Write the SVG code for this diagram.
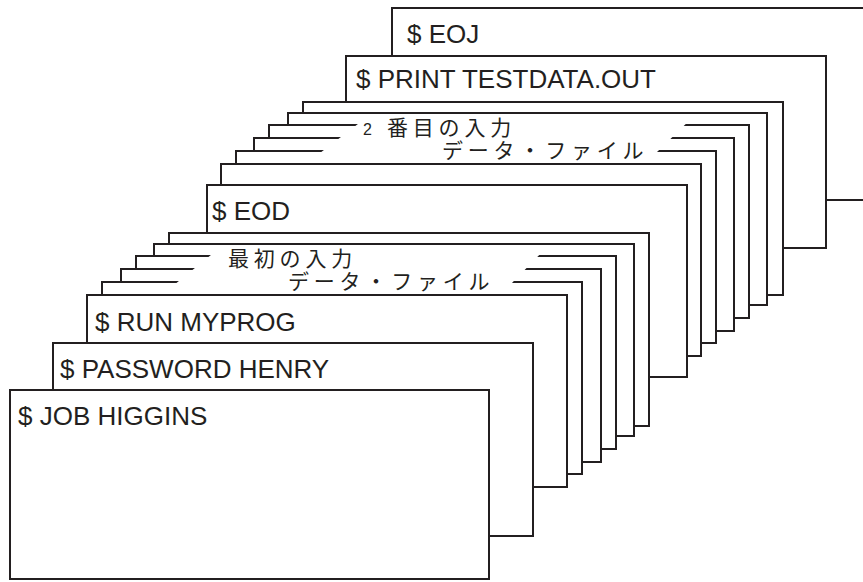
<svg xmlns="http://www.w3.org/2000/svg" width="863" height="582" viewBox="0 0 863 582">
<style>
.card{fill:#fff;stroke:#231f20;stroke-width:2}
.mask{fill:#fff;stroke:none}
.lbl{font-family:"Liberation Sans",Arial,sans-serif;font-size:26px;fill:#231f20}
.jp{font-family:"Noto Sans CJK JP","Noto Sans CJK SC",sans-serif;font-size:21px;letter-spacing:4.8px;fill:#231f20}
.num{font-family:"Liberation Sans",Arial,sans-serif;font-size:16px;fill:#231f20}
</style>
<rect width="863" height="582" fill="#fff"/>
<g id="card-eoj"><rect class="card" x="392" y="8" width="500" height="192"/><text class="lbl" x="407" y="43">$ EOJ</text></g>
<g id="card-print"><rect class="card" x="346" y="56" width="480" height="192"/><text class="lbl" x="356" y="88">$ PRINT TESTDATA.OUT</text></g>
<g id="data2">
<rect class="card" x="303" y="102" width="480" height="193"/>
<rect class="card" x="288" y="113" width="479" height="192"/>
<rect class="card" x="269" y="125" width="480" height="193"/>
<rect class="card" x="254" y="138" width="480" height="193"/>
<rect class="card" x="236" y="151" width="480" height="192"/>
<polygon class="mask" points="371,114 696,114 656,153 320,153"/>
<text class="num" x="363" y="135">2</text>
<text class="jp" x="387" y="135">番目の入力</text>
<text class="jp" x="442" y="158">データ・ファイル</text>
<rect class="card" x="221" y="164" width="480" height="192"/>
</g>
<g id="card-eod"><rect class="card" x="207" y="185" width="480" height="192"/><text class="lbl" x="212" y="220">$ EOD</text></g>
<g id="data1">
<rect class="card" x="169" y="233" width="480" height="193"/>
<rect class="card" x="154" y="244" width="480" height="192"/>
<rect class="card" x="136" y="256" width="480" height="193"/>
<rect class="card" x="121" y="269" width="480" height="193"/>
<rect class="card" x="102" y="282" width="480" height="192"/>
<polygon class="mask" points="222,246 548,246 510,285 174,285"/>
<text class="jp" x="228" y="266">最初の入力</text>
<text class="jp" x="288" y="289">データ・ファイル</text>
</g>
<g id="card-run"><rect class="card" x="87" y="295" width="480" height="192"/><text class="lbl" x="95" y="331">$ RUN MYPROG</text></g>
<g id="card-password"><rect class="card" x="53" y="343" width="480" height="193"/><text class="lbl" x="60" y="378">$ PASSWORD HENRY</text></g>
<g id="card-job"><rect class="card" x="10" y="390" width="479" height="189"/><text class="lbl" x="18" y="425">$ JOB HIGGINS</text></g>
<g id="connectors"/>
</svg>
